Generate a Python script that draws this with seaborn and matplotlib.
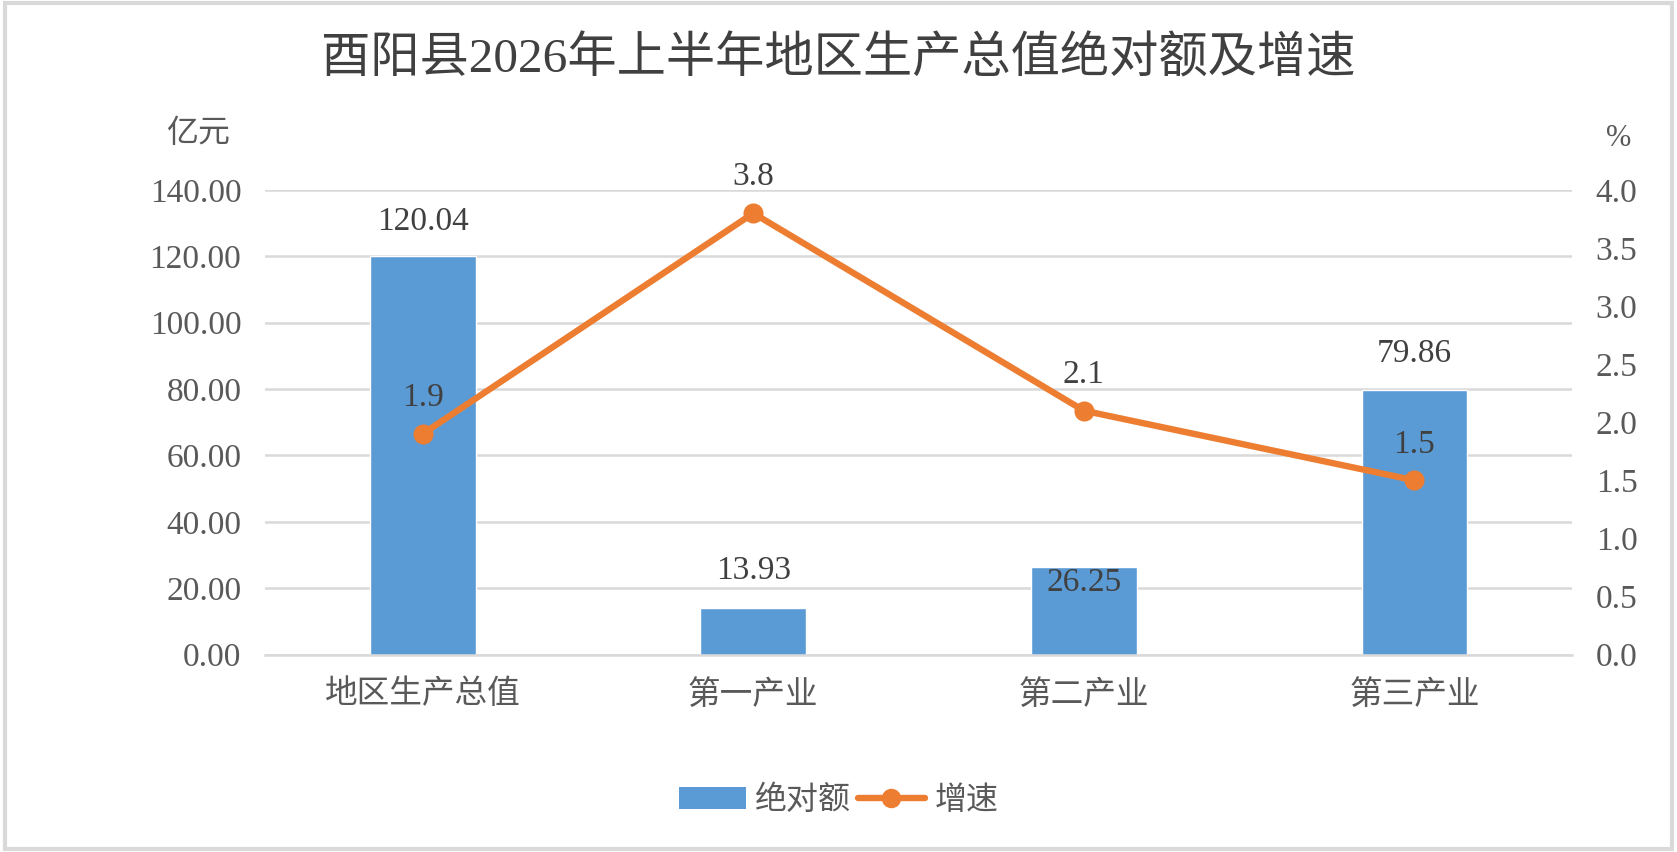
import matplotlib
matplotlib.use("Agg")
import matplotlib.pyplot as plt
import seaborn as sns
import pandas as pd
from matplotlib.patches import Rectangle, Patch
from matplotlib.lines import Line2D

# ---- data ----
categories = ["地区生产总值", "第一产业", "第二产业", "第三产业"]
absolute_values = [120.04, 13.93, 26.25, 79.86]
growth_rates = [1.9, 3.8, 2.1, 1.5]
left_ticks = [0, 20, 40, 60, 80, 100, 120, 140]
right_ticks = [0.0, 0.5, 1.0, 1.5, 2.0, 2.5, 3.0, 3.5, 4.0]
bar_label_offsets = [25, 27, -11, 26]  # points above/below the bar top

title = "酉阳县2026年上半年地区生产总值绝对额及增速"
left_unit = "亿元"
right_unit = "%"
legend_labels = ["绝对额", "增速"]

BAR_C = "#5B9BD5"
LINE_C = "#ED7D31"
TXT_C = "#595959"
GRID_C = "#D9D9D9"
FAM = ["Liberation Serif", "Noto Sans CJK SC", "DejaVu Sans"]

sns.set_theme(style="white")
plt.rcParams["font.family"] = FAM

df = pd.DataFrame({"cat": categories, "abs": absolute_values, "rate": growth_rates})

fig = plt.figure(figsize=(16.77, 8.52), dpi=100)
ax = fig.add_axes([0.158, 0.2317, 0.7795, 0.5453])
ax2 = ax.twinx()

sns.barplot(data=df, x="cat", y="abs", ax=ax, color=BAR_C, width=0.32,
            saturation=1, zorder=2)
sns.pointplot(data=df, x="cat", y="rate", ax=ax2, color=LINE_C,
              markers="o", markersize=11, linewidth=4.6)

NUM_FS = 24
ax.set_ylim(0, 140)
ax.set_yticks(left_ticks)
ax.set_yticklabels([f"{v:.2f}" for v in left_ticks], fontsize=NUM_FS, color=TXT_C)
ax2.set_ylim(0, 4.0)
ax2.set_yticks(right_ticks)
ax2.set_yticklabels([f"{v:.1f}" for v in right_ticks], fontsize=NUM_FS, color=TXT_C)
ax.set_xlim(-0.477, 3.477)
ax.set_xticks(range(len(categories)))
ax.set_xticklabels(categories, fontsize=23.5, color=TXT_C)
ax.set_xlabel("")
ax.set_ylabel("")
ax2.set_ylabel("")
ax.tick_params(axis="y", length=0, pad=17)
ax2.tick_params(axis="y", length=0, pad=17)
ax.tick_params(axis="x", length=0, pad=18)

ax.yaxis.grid(True, color=GRID_C, linewidth=1.8, zorder=0)
ax.set_axisbelow(True)
for a in (ax, ax2):
    for s in a.spines.values():
        s.set_visible(False)
ax.spines["bottom"].set_visible(True)
ax.spines["bottom"].set_color(GRID_C)
ax.spines["bottom"].set_linewidth(1.8)

# bar value labels
for i, v in enumerate(absolute_values):
    ax.annotate(f"{v:.2f}", (i, v), xytext=(0, bar_label_offsets[i]),
                textcoords="offset points", ha="center", va="center",
                fontsize=NUM_FS, color="#404040", zorder=5)
# line value labels
for i, v in enumerate(growth_rates):
    ax2.annotate(f"{v:.1f}", (i, v), xytext=(0, 26),
                 textcoords="offset points", ha="center", va="center",
                 fontsize=NUM_FS, color="#404040", zorder=5)

fig.text(0.5, 0.93, title, ha="center", va="center", fontsize=35.5, color="#404040")
fig.text(0.118, 0.842, left_unit, ha="center", va="center", fontsize=23, color=TXT_C)
fig.text(0.965, 0.838, right_unit, ha="center", va="center", fontsize=22, color=TXT_C)

handles = [Patch(facecolor=BAR_C, edgecolor="none"),
           Line2D([0], [0], color=LINE_C, linewidth=4.6, marker="o", markersize=13)]
fig.legend(handles, legend_labels, loc="center", bbox_to_anchor=(0.5, 0.06),
           ncol=2, frameon=False, fontsize=23, handlelength=2.1, handleheight=0.7,
           columnspacing=0.2, handletextpad=0.3, labelcolor=TXT_C)

fig.patches.append(Rectangle((0.003, 0.004), 0.994, 0.992, transform=fig.transFigure,
                             fill=False, edgecolor=GRID_C, linewidth=3))

fig.savefig("out.png", dpi=100)
